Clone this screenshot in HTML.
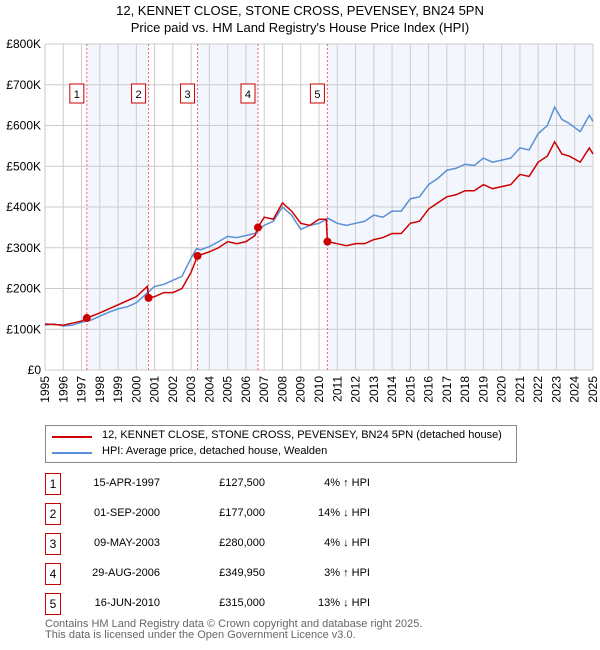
<!DOCTYPE html>
<html><head><meta charset="utf-8"><style>
body{margin:0;background:#fff;font-family:"Liberation Sans","DejaVu Sans",sans-serif;}
#wrap{position:relative;width:600px;height:650px;overflow:hidden;}
.t{position:absolute;font-size:12px;color:#000;white-space:nowrap;}
.nb{position:absolute;width:14px;height:20px;border:1px solid #c00;font-size:12px;text-align:center;line-height:20px;}
</style></head><body><div id="wrap">
<div class="t" style="left:0;width:600px;text-align:center;top:2px;font-size:13px;line-height:17px;">12, KENNET CLOSE, STONE CROSS, PEVENSEY, BN24 5PN<br>Price paid vs. HM Land Registry's House Price Index (HPI)</div>
<svg id="chart" width="600" height="420" style="position:absolute;left:0;top:0" font-family="Liberation Sans, DejaVu Sans, sans-serif"></svg>
<div style="position:absolute;left:45px;top:425px;width:470px;height:36px;border:1px solid #888;">
 <div><div style="position:absolute;left:6px;top:10px;width:40px;height:2px;background:#c00"></div><div class="t" style="left:56px;top:3px;font-size:11px">12, KENNET CLOSE, STONE CROSS, PEVENSEY, BN24 5PN (detached house)</div></div>
 <div><div style="position:absolute;left:6px;top:26px;width:40px;height:2px;background:#5b8fd6"></div><div class="t" style="left:56px;top:19px;font-size:11px">HPI: Average price, detached house, Wealden</div></div>
</div>
<div id="tbl"></div>
<div class="t" style="left:45px;top:619px;color:#666;font-size:11px;line-height:11px">Contains HM Land Registry data © Crown copyright and database right 2025.<br>This data is licensed under the Open Government Licence v3.0.</div>
</div>
<script>
const hpiYears=[1995,1995.5,1996,1996.5,1997,1997.5,1998,1998.5,1999,1999.5,2000,2000.5,2001,2001.5,2002,2002.5,2003,2003.3,2003.5,2004,2004.5,2005,2005.5,2006,2006.5,2007,2007.5,2008,2008.5,2009,2009.5,2010,2010.5,2011,2011.5,2012,2012.5,2013,2013.5,2014,2014.5,2015,2015.5,2016,2016.5,2017,2017.5,2018,2018.5,2019,2019.5,2020,2020.5,2021,2021.5,2022,2022.5,2022.9,2023.3,2023.7,2024.3,2024.8,2025];
const hpiValues=[110,113,108,110,117,122,132,142,150,155,165,185,205,210,220,230,275,298,295,303,315,328,325,330,335,355,365,400,380,345,355,360,372,360,355,360,365,380,375,390,390,420,425,455,470,490,495,505,502,520,510,515,520,545,540,580,600,645,615,605,585,625,610];
const redYears=[1995,1996,1997,1997.29,1998,1999,2000,2000.6,2000.67,2001,2001.5,2002,2002.5,2003,2003.35,2004,2004.5,2005,2005.5,2006,2006.5,2006.66,2007,2007.5,2008,2008.5,2009,2009.5,2010,2010.4,2010.46,2011,2011.5,2012,2012.5,2013,2013.5,2014,2014.5,2015,2015.5,2016,2016.5,2017,2017.5,2018,2018.5,2019,2019.5,2020,2020.5,2021,2021.5,2022,2022.5,2022.9,2023.3,2023.7,2024.3,2024.8,2025];
const redValues=[113,110,120,127.5,140,160,180,205,177,180,190,190,200,240,280,290,300,315,310,315,330,349.95,375,370,410,390,360,355,370,370,315,310,305,310,310,320,325,335,335,360,365,395,410,425,430,440,440,455,445,450,455,480,475,510,525,560,530,525,510,545,530];
const saleLabels=["1","2","3","4","5"];
const saleYears=[1997.29,2000.67,2003.35,2006.66,2010.46];
const saleValues=[127.5,177,280,349.95,315];
const saleDates=["15-APR-1997","01-SEP-2000","09-MAY-2003","29-AUG-2006","16-JUN-2010"];
const salePrices=["£127,500","£177,000","£280,000","£349,950","£315,000"];
const saleHpi=["4% ↑ HPI","14% ↓ HPI","4% ↓ HPI","3% ↑ HPI","13% ↓ HPI"];
const yTicks=[0,100,200,300,400,500,600,700,800];
const yTickLabels=["£0","£100K","£200K","£300K","£400K","£500K","£600K","£700K","£800K"];
const xTicks=[1995,1996,1997,1998,1999,2000,2001,2002,2003,2004,2005,2006,2007,2008,2009,2010,2011,2012,2013,2014,2015,2016,2017,2018,2019,2020,2021,2022,2023,2024,2025];

const X0=45,X1=593,Y0=370,Y1=44;
const x=v=>X0+(v-1995)/30*(X1-X0);
const y=v=>Y0-v/800*(Y0-Y1);
const svg=document.getElementById('chart');const NS='http://www.w3.org/2000/svg';
function mk(t,a){const e=document.createElementNS(NS,t);for(const k in a)e.setAttribute(k,a[k]);svg.appendChild(e);return e;}
// shaded bands
const bands=[[0,1],[2,3],[4,null]];
bands.forEach(b=>{const r=mk('rect',{x:x(saleYears[b[0]]),y:Y1,width:(b[1]===null?X1:x(saleYears[b[1]]))-x(saleYears[b[0]]),height:Y0-Y1,fill:'#eef3fc',opacity:0.7});

});
yTicks.forEach((v,i)=>{const l=mk('line',{x1:X0,x2:X1,y1:y(v),y2:y(v),stroke:'#ccc','stroke-width':1});


const t=mk('text',{x:X0-4,y:y(v)+4,'text-anchor':'end','font-size':12,fill:'#000'});t.textContent=yTickLabels[i];

});
xTicks.forEach(v=>{const l=mk('line',{x1:x(v),x2:x(v),y1:Y1,y2:Y0,stroke:'#ccc','stroke-width':1});


const t=mk('text',{x:0,y:0,'text-anchor':'end','font-size':12,fill:'#000',transform:`translate(${x(v)+4},${Y0+6}) rotate(-90)`});t.textContent=v;

});
saleYears.forEach((s,i)=>{const l=mk('line',{x1:x(s),x2:x(s),y1:Y1,y2:Y0,stroke:'#e66','stroke-width':1,'stroke-dasharray':'2,2'});


const r=mk('rect',{x:x(s)-17,y:84,width:14,height:19,fill:'#fff',stroke:'#c00'});


const t=mk('text',{x:x(s)-10,y:98,'text-anchor':'middle','font-size':11});t.textContent=saleLabels[i];

});
const hp=mk('polyline',{points:hpiYears.map((v,i)=>x(v)+','+y(hpiValues[i])).join(' '),fill:'none',stroke:'#5b8fd6','stroke-width':1.5});


const rp=mk('polyline',{points:redYears.map((v,i)=>x(v)+','+y(redValues[i])).join(' '),fill:'none',stroke:'#c00','stroke-width':1.5});


saleYears.forEach((s,i)=>{const c=mk('circle',{cx:x(s),cy:y(saleValues[i]),r:4,fill:'#c00'});

});
const tbl=document.getElementById('tbl');
saleLabels.forEach((l,i)=>{const top=473+i*30;
const row=document.createElement('div');


row.innerHTML=`<div class="nb" style="left:45px;top:${top}px">${l}</div><div class="t" style="left:60px;width:100px;text-align:right;top:${top+4}px;font-size:11px">${saleDates[i]}</div><div class="t" style="left:170px;width:95px;text-align:right;top:${top+4}px;font-size:11px">${salePrices[i]}</div><div class="t" style="left:270px;width:100px;text-align:right;top:${top+4}px;font-size:11px">${saleHpi[i]}</div>`;
tbl.appendChild(row);});
</script></body></html>
